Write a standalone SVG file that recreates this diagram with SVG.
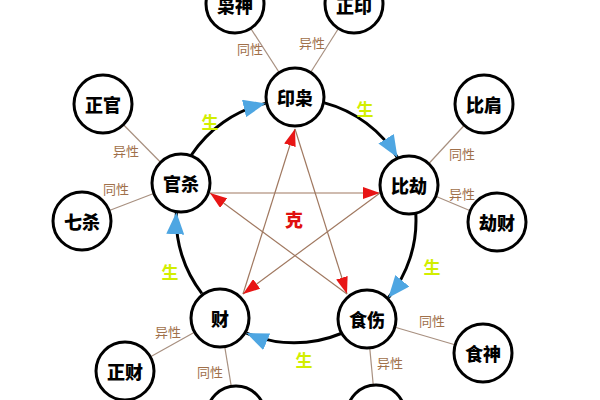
<svg xmlns="http://www.w3.org/2000/svg" width="600" height="400" viewBox="0 0 600 400">
<style>
.n circle{fill:#fff;stroke:#000;stroke-width:3}
.n text{font-family:"Noto Sans CJK SC","Noto Sans",sans-serif;font-weight:900;font-size:18px;fill:#000;text-anchor:middle;dominant-baseline:central}
.sat{stroke:#a89080;stroke-width:1.2;fill:none}
.star{stroke:#a07860;stroke-width:1.2;fill:none}
.arc{stroke:#000;stroke-width:3;fill:none}
.lbl{font-family:"Noto Sans CJK SC","Noto Sans",sans-serif;font-size:13px;fill:#a0704a;text-anchor:middle;dominant-baseline:central}
.sheng{font-family:"Noto Sans CJK SC","Noto Sans",sans-serif;font-size:17px;font-weight:700;fill:#d2ee00;text-anchor:middle;dominant-baseline:central}
.ke{font-family:"Noto Sans CJK SC","Noto Sans",sans-serif;font-size:18px;font-weight:900;fill:#e01010;text-anchor:middle;dominant-baseline:central}
</style>
<defs>
<marker id="blue" markerUnits="userSpaceOnUse" markerWidth="22" markerHeight="18" viewBox="0 0 22 18" refX="22" refY="9" orient="auto">
<path d="M0,0 L22,9 L0,18 z" fill="#4ea6e2"/>
</marker>
<marker id="red" markerUnits="userSpaceOnUse" markerWidth="17" markerHeight="12" viewBox="0 0 17 12" refX="17" refY="6" orient="auto">
<path d="M0,0 L17,6 L0,12 z" fill="#e81515"/>
</marker>
</defs>
<g id="connectors">
<line class="sat" x1="295" y1="97" x2="235" y2="4"/>
<line class="sat" x1="295" y1="97" x2="354" y2="4"/>
<line class="sat" x1="181" y1="183" x2="103" y2="104"/>
<line class="sat" x1="181" y1="183" x2="82" y2="221"/>
<line class="sat" x1="409" y1="185" x2="484" y2="104"/>
<line class="sat" x1="409" y1="185" x2="497" y2="222"/>
<line class="sat" x1="220" y1="318" x2="125" y2="371"/>
<line class="sat" x1="220" y1="318" x2="236" y2="415"/>
<line class="sat" x1="367" y1="319" x2="483" y2="353"/>
<line class="sat" x1="367" y1="319" x2="376" y2="414"/>
<line class="star" x1="295" y1="129" x2="347" y2="294" marker-end="url(#red)"/>
<line class="star" x1="243" y1="294" x2="295" y2="129" marker-end="url(#red)"/>
<line class="star" x1="210" y1="193" x2="380" y2="193" marker-end="url(#red)"/>
<line class="star" x1="380" y1="193" x2="243" y2="294" marker-end="url(#red)"/>
<line class="star" x1="347" y1="294" x2="210" y2="193" marker-end="url(#red)"/>
<path class="arc" d="M191.2,155.3 A122,122 0 0 1 265.5,103.4" marker-end="url(#blue)"/>
<path class="arc" d="M324.5,102.9 A122,122 0 0 1 397.5,157.6" marker-end="url(#blue)"/>
<path class="arc" d="M415.8,213.8 A122,122 0 0 1 388.4,297.8" marker-end="url(#blue)"/>
<path class="arc" d="M341.1,333.5 A122,122 0 0 1 246.5,333.1" marker-end="url(#blue)"/>
<path class="arc" d="M201.8,293.3 A122,122 0 0 1 176.4,212.2" marker-end="url(#blue)"/>
</g>
<g id="labels">
<text class="lbl" x="250" y="48">同性</text>
<text class="lbl" x="312" y="42">异性</text>
<text class="lbl" x="126" y="150">异性</text>
<text class="lbl" x="116" y="188">同性</text>
<text class="lbl" x="462" y="153">同性</text>
<text class="lbl" x="462" y="193">异性</text>
<text class="lbl" x="168" y="331">异性</text>
<text class="lbl" x="210" y="371">同性</text>
<text class="lbl" x="432" y="320">同性</text>
<text class="lbl" x="390" y="362">异性</text>
<text class="sheng" x="210" y="121">生</text>
<text class="sheng" x="365" y="108">生</text>
<text class="sheng" x="432" y="266">生</text>
<text class="sheng" x="304" y="359">生</text>
<text class="sheng" x="170" y="271">生</text>
<text class="ke" x="294" y="219">克</text>
</g>
<g id="yinxiao" class="n"><circle cx="295" cy="97" r="29"/><text x="295" y="97">印枭</text></g>
<g id="bijie" class="n"><circle cx="409" cy="185" r="29"/><text x="409" y="185">比劫</text></g>
<g id="shishang" class="n"><circle cx="367" cy="319" r="29"/><text x="367" y="319">食伤</text></g>
<g id="cai" class="n"><circle cx="220" cy="318" r="29"/><text x="220" y="318">财</text></g>
<g id="guansha" class="n"><circle cx="181" cy="183" r="29"/><text x="181" y="183">官杀</text></g>
<g id="xiaoshen" class="n"><circle cx="235" cy="4" r="29"/><text x="235" y="5">枭神</text></g>
<g id="zhengyin" class="n"><circle cx="354" cy="4" r="29"/><text x="354" y="5">正印</text></g>
<g id="zhengguan" class="n"><circle cx="103" cy="104" r="29"/><text x="103" y="104">正官</text></g>
<g id="qisha" class="n"><circle cx="82" cy="221" r="29"/><text x="82" y="221">七杀</text></g>
<g id="bijian" class="n"><circle cx="484" cy="104" r="29"/><text x="484" y="104">比肩</text></g>
<g id="jiecai" class="n"><circle cx="497" cy="222" r="29"/><text x="497" y="222">劫财</text></g>
<g id="zhengcai" class="n"><circle cx="125" cy="371" r="29"/><text x="125" y="371">正财</text></g>
<g id="shishen" class="n"><circle cx="483" cy="353" r="29"/><text x="483" y="353">食神</text></g>
<g id="piancai" class="n"><circle cx="236" cy="415" r="29"/></g>
<g id="shangguan" class="n"><circle cx="376" cy="414" r="29"/></g>
</svg>
